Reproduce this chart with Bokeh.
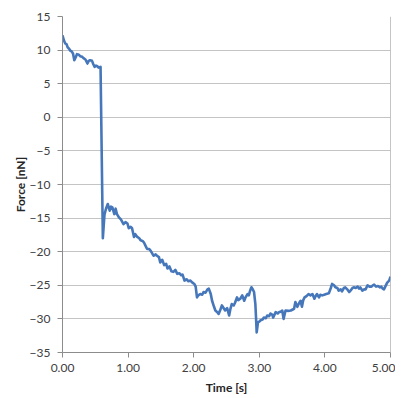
from bokeh.plotting import figure
from bokeh.models import Range1d, FixedTicker, NumeralTickFormatter, Span
from bokeh.embed import file_html
from bokeh.resources import INLINE

time_s = [0.00, 0.02, 0.04, 0.06, 0.08, 0.10, 0.12, 0.14, 0.16, 0.18, 0.20, 0.22, 0.25, 0.27, 0.30,
          0.32, 0.35, 0.38, 0.40, 0.42, 0.45, 0.47, 0.49, 0.51, 0.53, 0.55, 0.58, 0.615, 0.64, 0.655,
          0.67, 0.69, 0.72, 0.74, 0.76, 0.79, 0.81, 0.83, 0.86, 0.89, 0.93, 0.96, 0.99, 1.01, 1.04,
          1.06, 1.09, 1.11, 1.14, 1.17, 1.19, 1.22, 1.24, 1.27, 1.29, 1.32, 1.34, 1.37, 1.39, 1.42,
          1.44, 1.47, 1.49, 1.52, 1.55, 1.58, 1.60, 1.63, 1.66, 1.69, 1.72, 1.75, 1.78, 1.81, 1.83,
          1.86, 1.89, 1.92, 1.95, 1.98, 2.01, 2.03, 2.05, 2.07, 2.10, 2.13, 2.15, 2.18, 2.21, 2.23,
          2.26, 2.28, 2.31, 2.33, 2.36, 2.38, 2.40, 2.43, 2.45, 2.48, 2.51, 2.54, 2.56, 2.58, 2.61,
          2.63, 2.66, 2.68, 2.71, 2.74, 2.77, 2.79, 2.82, 2.84, 2.86, 2.88, 2.90, 2.92, 2.94, 2.95,
          2.96, 2.98, 3.00, 3.02, 3.05, 3.07, 3.10, 3.12, 3.15, 3.17, 3.20, 3.21, 3.25, 3.28, 3.30,
          3.33, 3.35, 3.37, 3.40, 3.44, 3.48, 3.51, 3.53, 3.55, 3.58, 3.61, 3.63, 3.65, 3.67, 3.69,
          3.72, 3.75, 3.78, 3.81, 3.84, 3.86, 3.88, 3.91, 3.93, 3.96, 3.99, 4.02, 4.06, 4.09, 4.11,
          4.14, 4.16, 4.19, 4.21, 4.24, 4.26, 4.29, 4.31, 4.34, 4.37, 4.39, 4.42, 4.44, 4.47, 4.50,
          4.52, 4.54, 4.57, 4.60, 4.62, 4.65, 4.68, 4.71, 4.73, 4.75, 4.78, 4.81, 4.84, 4.86, 4.88,
          4.90, 4.92, 4.95, 4.98, 5.00]

force_nN = [12.2, 11.5, 11.0, 10.9, 10.4, 10.2, 9.9, 9.8, 9.5, 8.5, 8.9, 9.4, 9.3, 9.1, 9.0,
            8.8, 8.6, 8.0, 8.4, 8.5, 8.4, 7.9, 7.5, 7.7, 7.6, 7.4, 7.5, -18.0, -14.5, -13.9,
            -13.4, -12.9, -13.9, -13.3, -13.4, -14.4, -13.6, -14.4, -14.9, -15.2, -15.9, -15.6, -15.8, -16.5, -16.3,
            -16.5, -17.8, -17.4, -17.8, -18.0, -18.3, -18.4, -18.6, -19.2, -19.6, -19.6, -19.8, -20.3, -20.6, -20.4,
            -20.6, -20.8, -21.6, -21.2, -22.0, -21.8, -22.5, -22.2, -22.9, -23.0, -22.7, -23.3, -23.2, -23.5, -23.4,
            -24.3, -24.1, -24.4, -24.3, -24.6, -24.8, -25.2, -26.8, -26.5, -26.3, -26.4, -26.0, -26.1, -25.6, -25.5,
            -26.3, -27.3, -28.2, -28.75, -29.0, -29.25, -28.8, -28.0, -28.3, -28.75, -28.4, -29.5, -28.5, -27.8, -28.0,
            -27.6, -26.8, -27.2, -27.0, -26.5, -27.3, -26.8, -26.3, -26.5, -25.8, -25.3, -25.6, -26.0, -27.8, -29.8,
            -32.0, -30.5, -30.4, -30.2, -30.1, -29.8, -29.9, -29.5, -29.6, -29.2, -29.4, -29.8, -29.0, -29.2, -29.0,
            -28.9, -28.75, -30.0, -28.75, -28.8, -28.75, -28.6, -28.5, -27.5, -28.2, -27.6, -27.3, -28.2, -27.2, -26.8,
            -26.6, -26.3, -26.5, -26.3, -27.0, -26.6, -26.3, -26.8, -26.4, -26.5, -26.4, -26.3, -26.2, -25.4, -24.8,
            -25.0, -25.3, -25.4, -25.8, -25.6, -25.9, -25.4, -25.3, -25.6, -26.0, -25.8, -25.4, -25.3, -25.4, -25.2,
            -25.5, -25.3, -25.8, -25.6, -25.6, -25.0, -25.2, -25.2, -25.0, -24.9, -25.2, -25.1, -25.3, -25.2, -25.5,
            -25.6, -25.2, -24.6, -24.3, -23.7]

x_ticks = [0, 1, 2, 3, 4, 5]
y_ticks = [15, 10, 5, 0, -5, -10, -15, -20, -25, -30, -35]

FONT = "Lato"

p = figure(width=395, height=398, output_backend="svg", toolbar_location=None,
           x_range=Range1d(0, 5), y_range=Range1d(-35, 15),
           min_border_left=62, min_border_right=5, min_border_top=16, min_border_bottom=46)
p.outline_line_color = None
p.background_fill_color = "white"
p.border_fill_color = "white"

p.line(time_s, force_nN, line_color="#4677BA", line_width=2.6, line_join="round")

for ax in (p.xaxis[0], p.yaxis[0]):
    ax.axis_line_color = "#8c8c8c"
    ax.major_tick_line_color = "#8c8c8c"
    ax.major_tick_out = 5
    ax.major_tick_in = 0
    ax.minor_tick_line_color = None
    ax.major_label_text_font = FONT
    ax.major_label_text_font_size = "12px"
    ax.major_label_text_color = "#404040"
    ax.axis_label_text_font = FONT
    ax.axis_label_text_font_size = "12px"
    ax.axis_label_text_font_style = "bold"
    ax.axis_label_text_color = "#262626"

p.xaxis.ticker = FixedTicker(ticks=x_ticks)
p.xaxis.formatter = NumeralTickFormatter(format="0.00")
p.xaxis.axis_label = "Time [s]"
p.xaxis.major_label_standoff = 6
p.xaxis.axis_label_standoff = 5

p.yaxis.ticker = FixedTicker(ticks=y_ticks)
p.yaxis.axis_label = "Force [nN]"
p.yaxis.major_label_standoff = 7
p.yaxis.axis_label_standoff = -1

p.xgrid.grid_line_color = None
p.ygrid.ticker = FixedTicker(ticks=y_ticks)
p.ygrid.grid_line_color = "#c4c4c4"
p.ygrid.grid_line_width = 1

p.add_layout(Span(location=5, dimension="height", line_color="#8c8c8c", line_width=1))

open("out.html", "w").write(file_html(p, INLINE))
